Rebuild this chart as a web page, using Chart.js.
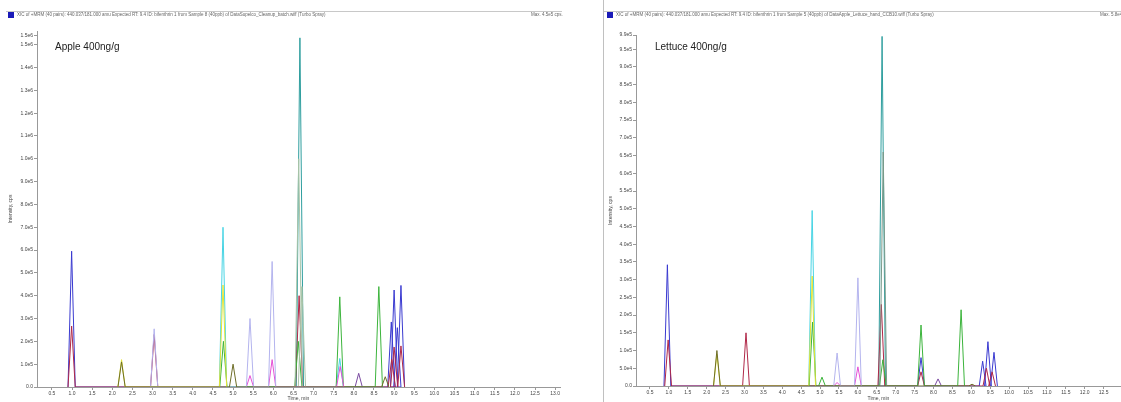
<!DOCTYPE html>
<html>
<head>
<meta charset="utf-8">
<script src="https://cdn.jsdelivr.net/npm/chart.js@4.4.1/dist/chart.umd.min.js"></script>
<style>
  body { margin: 0; background: #fff; font-family: "Liberation Sans", Arial, sans-serif; }
  #wrap { position: relative; width: 1121px; height: 402px; overflow: hidden; }
  .panel { position: absolute; top: 0; height: 402px; }
  .hline { position: absolute; top: 11px; height: 1px; background: #c8c8c8; }
  .vline { position: absolute; top: 0; width: 1px; height: 402px; background: #c0c0c0; }
  .mark { position: absolute; top: 12px; width: 6px; height: 6px; background: #1a1ab8; }
  .head { position: absolute; top: 12px; font-size: 4.5px; color: #666; white-space: nowrap; }
  .name { position: absolute; top: 41px; font-size: 10px; color: #222; }
</style>
</head>
<body>
<div id="wrap">
  <canvas id="apple" class="panel" style="left:0;width:562px" width="562" height="402"></canvas>
  <canvas id="lettuce" class="panel" style="left:603px;width:518px" width="518" height="402"></canvas>

  <div class="hline" style="left:6px;width:556px"></div>
  <div class="mark" style="left:8px"></div>
  <div class="head" style="left:17px">XIC of +MRM (40 pairs): 440.037/181.000 amu Expected RT: 9.4 ID: bifenthrin 1 from Sample 8 (40ppb) of DataSupelco_Cleanup_batch.wiff (Turbo Spray)</div>
  <div class="head" style="left:531px">Max. 4.5e5 cps.</div>
  <div class="name" style="left:55px">Apple 400ng/g</div>

  <div class="vline" style="left:603px"></div>
  <div class="hline" style="left:604px;width:517px"></div>
  <div class="mark" style="left:607px"></div>
  <div class="head" style="left:616px">XIC of +MRM (40 pairs): 440.037/181.000 amu Expected RT: 9.4 ID: bifenthrin 1 from Sample 5 (40ppb) of DataApple_Lettuce_hand_CCB10.wiff (Turbo Spray)</div>
  <div class="head" style="left:1100px">Max. 5.8e4 cps.</div>
  <div class="name" style="left:655px">Lettuce 400ng/g</div>
</div>
<script>
// time axis ticks (min) and intensity ticks (cps)
const TIME_TICKS = [0.5, 1.0, 1.5, 2.0, 2.5, 3.0, 3.5, 4.0, 4.5, 5.0, 5.5, 6.0, 6.5,
  7.0, 7.5, 8.0, 8.5, 9.0, 9.5, 10.0, 10.5, 11.0, 11.5, 12.0, 12.5, 13.0];
const APPLE_Y_TICKS = [0, 1e5, 2e5, 3e5, 4e5, 5e5, 6e5, 7e5, 8e5, 9e5, 1.0e6,
  1.1e6, 1.2e6, 1.3e6, 1.4e6, 1.5e6, 1.54e6];
const LETTUCE_Y_TICKS = [0, 5e4, 1e5, 1.5e5, 2e5, 2.5e5, 3e5, 3.5e5, 4e5, 4.5e5, 5e5,
  5.5e5, 6e5, 6.5e5, 7e5, 7.5e5, 8e5, 8.5e5, 9e5, 9.5e5, 9.9e5];

// traces: [retention time, apex intensity] per peak
const APPLE_BLUE = [[0.99, 5.95e5], [8.93, 2.85e5], [9.0, 4.25e5], [9.08, 2.6e5], [9.17, 4.45e5]];
const APPLE_RED = [[0.99, 2.67e5], [3.04, 2.3e5], [6.64, 4.0e5], [8.94, 1.2e5], [9.0, 1.75e5], [9.17, 1.8e5]];
const APPLE_CYAN = [[4.75, 7.0e5], [7.65, 1.25e5]];
const APPLE_YELLOW = [[2.23, 1.2e5], [4.75, 4.47e5]];
const APPLE_GREEN = [[4.76, 2.0e5], [6.62, 2.0e5], [7.65, 3.95e5], [8.62, 4.4e5]];
const APPLE_OLIVE = [[2.23, 1.1e5], [5.0, 1.0e5], [8.78, 0.45e5]];
const APPLE_LAVENDER = [[3.04, 2.55e5], [5.42, 3.0e5], [5.97, 5.5e5]];
const APPLE_MAGENTA = [[5.42, 0.5e5], [5.97, 1.2e5], [7.66, 0.9e5]];
const APPLE_TEAL = [[6.66, 1.53e6]];
const APPLE_SAGE = [[6.63, 1.0e6], [6.71, 4.4e5]];
const APPLE_PURPLE = [[8.12, 0.6e5]];

const LETTUCE_BLUE = [[0.96, 3.42e5], [7.67, 0.8e5], [9.3, 0.7e5], [9.44, 1.25e5], [9.6, 0.95e5]];
const LETTUCE_RED = [[0.98, 1.3e5], [3.04, 1.5e5], [6.62, 2.3e5], [7.67, 0.4e5], [9.4, 0.5e5], [9.55, 0.4e5]];
const LETTUCE_CYAN = [[4.79, 4.95e5]];
const LETTUCE_YELLOW = [[2.27, 0.9e5], [4.79, 3.1e5]];
const LETTUCE_GREEN = [[4.8, 1.8e5], [5.05, 0.25e5], [6.66, 0.74e5], [7.67, 1.72e5], [8.73, 2.15e5]];
const LETTUCE_OLIVE = [[2.27, 1.0e5], [9.02, 0.05e5]];
const LETTUCE_LAVENDER = [[5.45, 0.93e5], [6.0, 3.05e5]];
const LETTUCE_MAGENTA = [[5.45, 0.1e5], [6.0, 0.54e5]];
const LETTUCE_TEAL = [[6.64, 9.86e5]];
const LETTUCE_SAGE = [[6.67, 6.6e5]];
const LETTUCE_PURPLE = [[8.12, 0.2e5]];

const PEAK_HALF = 0.09;

function toPeaks(list) {
  const pts = [];
  list.forEach(([t, h]) => {
    pts.push({ x: t - PEAK_HALF, y: 0 }, { x: t, y: h }, { x: t + PEAK_HALF, y: 0 });
  });
  return pts;
}

function trace(list, color) {
  return {
    data: toPeaks(list),
    borderColor: color,
    borderWidth: 1,
    pointRadius: 0,
    fill: false,
    tension: 0,
  };
}

function expLabel(v) {
  if (v === 0) return '0.0';
  return v.toExponential(1).replace('+', '');
}

function drawPanel(id, sets, yTicks, yMax, xMax, pad, yWidth, xHeight) {
  const axisFont = { size: 5, family: 'Liberation Sans' };
  new Chart(document.getElementById(id), {
    type: 'line',
    data: { datasets: sets },
    options: {
      responsive: false,
      animation: false,
      layout: { padding: pad },
      plugins: { legend: { display: false }, tooltip: { enabled: false } },
      scales: {
        x: {
          type: 'linear',
          min: 0.13,
          max: xMax,
          afterBuildTicks: s => { s.ticks = TIME_TICKS.filter(v => v <= xMax).map(v => ({ value: v })); },
          afterFit: s => { s.height = xHeight; },
          ticks: { font: axisFont, color: '#444', autoSkip: false, maxRotation: 0, padding: 1,
            callback: v => v.toFixed(1) },
          grid: { drawOnChartArea: false, tickLength: 3, color: '#999' },
          border: { color: '#999' },
          title: { display: true, text: 'Time, min', font: axisFont, color: '#444', padding: 0 },
        },
        y: {
          min: 0,
          max: yMax,
          afterBuildTicks: s => { s.ticks = yTicks.map(v => ({ value: v })); },
          afterFit: s => { s.width = yWidth; },
          ticks: { font: axisFont, color: '#444', padding: 1, callback: expLabel },
          grid: { drawOnChartArea: false, tickLength: 3, color: '#999' },
          border: { color: '#999' },
          title: { display: true, text: 'Intensity, cps', font: axisFont, color: '#444', padding: { top: 5 } },
        },
      },
    },
  });
}

drawPanel('apple', [
  trace(APPLE_OLIVE, '#6e6e28'),
  trace(APPLE_YELLOW, '#e4e43a'),
  trace(APPLE_LAVENDER, '#b4b4ee'),
  trace(APPLE_MAGENTA, '#e650d6'),
  trace(APPLE_SAGE, '#a8c4a8'),
  trace(APPLE_GREEN, '#3cb43c'),
  trace(APPLE_CYAN, '#48d4e4'),
  trace(APPLE_PURPLE, '#7a4aa0'),
  trace(APPLE_RED, '#b02848'),
  trace(APPLE_BLUE, '#3a3ad0'),
  trace(APPLE_TEAL, '#2e9e9e'),
], APPLE_Y_TICKS, 1.56e6, 13.12, { top: 31, left: 3, right: 2, bottom: 0 }, 34, 15);

drawPanel('lettuce', [
  trace(LETTUCE_OLIVE, '#6e6e28'),
  trace(LETTUCE_YELLOW, '#e4e43a'),
  trace(LETTUCE_LAVENDER, '#b4b4ee'),
  trace(LETTUCE_MAGENTA, '#e650d6'),
  trace(LETTUCE_SAGE, '#7a9a8a'),
  trace(LETTUCE_GREEN, '#3cb43c'),
  trace(LETTUCE_CYAN, '#48d4e4'),
  trace(LETTUCE_PURPLE, '#7a4aa0'),
  trace(LETTUCE_RED, '#b02848'),
  trace(LETTUCE_BLUE, '#3a3ad0'),
  trace(LETTUCE_TEAL, '#2e9e9e'),
], LETTUCE_Y_TICKS, 9.9e5, 12.96, { top: 35, left: 0, right: 0, bottom: 0 }, 33, 16);
</script>
</body>
</html>
